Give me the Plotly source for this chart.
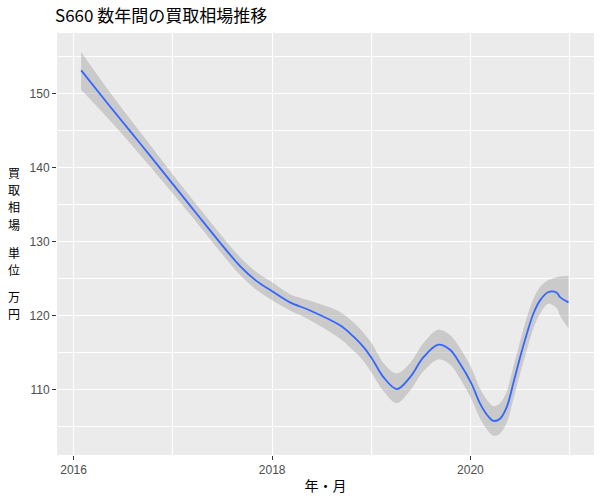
import plotly.graph_objects as go

dates = ["2016-01-29", "2016-05-15", "2016-09-03", "2016-12-22", "2017-03-24",
         "2017-06-20", "2017-09-05", "2017-11-04", "2018-01-01", "2018-03-08",
         "2018-05-21", "2018-09-08", "2018-10-27", "2018-12-03", "2019-01-04",
         "2019-02-15", "2019-04-05", "2019-05-24", "2019-07-12", "2019-09-05",
         "2019-10-18", "2019-11-24", "2020-01-04", "2020-02-06", "2020-03-07",
         "2020-03-26", "2020-04-19", "2020-05-14", "2020-06-07", "2020-07-02",
         "2020-07-27", "2020-08-20", "2020-09-14", "2020-10-14", "2020-11-14",
         "2020-11-26", "2020-12-27"]
fit = [153.1, 148.2, 143.2, 138.2, 134.0,
       130.0, 126.7, 124.7, 123.3, 121.8,
       120.7, 118.7, 117.2, 115.8, 114.2,
       111.7, 110.1, 111.7, 114.4, 116.1,
       115.4, 113.5, 110.9, 108.1, 106.4,
       105.8, 106.1, 107.7, 110.9, 114.4,
       117.6, 120.3, 122.1, 123.2, 123.1,
       122.5, 121.8]
lower = [150.5, 146.3, 141.65, 136.9, 132.8,
         128.8, 125.5, 123.5, 122.1, 120.7,
         119.4, 116.9, 115.3, 113.9, 112.2,
         109.8, 108.2, 109.9, 112.5, 114.1,
         113.4, 111.5, 108.8, 106.1, 104.4,
         103.8, 104.1, 105.6, 108.7, 112.2,
         115.4, 118.3, 120.3, 121.6, 121.0,
         120.0, 118.3]
upper = [155.6, 150.1, 144.75, 139.5, 135.2,
         131.2, 127.9, 125.9, 124.5, 122.9,
         122.0, 120.5, 119.1, 117.7, 116.2,
         113.6, 112.2, 113.6, 116.3, 118.1,
         117.4, 115.6, 113.0, 110.1, 108.4,
         107.8, 108.2, 109.8, 113.1, 116.6,
         119.8, 122.3, 123.9, 124.8, 125.2,
         125.3, 125.4]

title_text = "S660 数年間の買取相場推移"
x_title = "年・月"
y_title_chars = ["買", "取", "相", "場", "単", "位", "万", "円"]
y_title_rows = [172, 189.5, 207, 224.5, 252, 269.5, 296, 313.5]

W, H = 600, 500
ML, MR, MT, MB = 57, 6, 33, 45
PW, PH = W - ML - MR, H - MT - MB

fig = go.Figure()
fig.add_trace(go.Scatter(x=dates, y=lower, mode="lines", line=dict(width=0, shape="spline"),
                         hoverinfo="skip", showlegend=False))
fig.add_trace(go.Scatter(x=dates, y=upper, mode="lines", line=dict(width=0, shape="spline"),
                         fill="tonexty", fillcolor="rgba(153,153,153,0.4)",
                         hoverinfo="skip", showlegend=False))
fig.add_trace(go.Scatter(x=dates, y=fit, mode="lines",
                         line=dict(color="#3366FF", width=1.8, shape="spline"),
                         showlegend=False))

axis_font = dict(family="Liberation Sans, Arial, sans-serif", size=12, color="#4D4D4D")

fig.update_layout(
    width=W, height=H,
    margin=dict(l=ML, r=MR, t=MT, b=MB),
    paper_bgcolor="white", plot_bgcolor="#EBEBEB",
    title=dict(text=title_text, x=55/W, xanchor="left", y=1-16/H, yanchor="middle",
               font=dict(family="Noto Sans CJK JP", size=17, color="black")),
    xaxis=dict(type="date", range=["2015-11-01", "2021-03-31"],
               tick0="2016-01-01", dtick="M24", tickformat="%Y",
               showgrid=True, gridcolor="white", gridwidth=1.1,
               minor=dict(dtick="M12", showgrid=True, gridcolor="white", gridwidth=0.6),
               ticks="outside", ticklen=4, tickcolor="#333333", tickwidth=1,
               tickfont=axis_font, zeroline=False, showline=False,
               title=dict(text=x_title, standoff=4,
                          font=dict(family="Noto Sans CJK JP", size=14, color="black"))),
    yaxis=dict(range=[101.2, 158.15], tick0=110, dtick=10,
               showgrid=True, gridcolor="white", gridwidth=1.1,
               minor=dict(dtick=5, showgrid=True, gridcolor="white", gridwidth=0.6),
               ticks="outside", ticklen=4, tickcolor="#333333", tickwidth=1,
               tickfont=axis_font, zeroline=False, showline=False),
)

for ch, py in zip(y_title_chars, y_title_rows):
    fig.add_annotation(text=ch, xref="paper", yref="paper",
                       x=(14 - ML)/PW, y=1-(py-MT)/PH, xanchor="center", yanchor="middle",
                       showarrow=False,
                       font=dict(family="Noto Sans CJK JP", size=12, color="black"))

fig.write_html("out.html", config={"displayModeBar": False},
               post_script="document.body.style.margin='0px';")
